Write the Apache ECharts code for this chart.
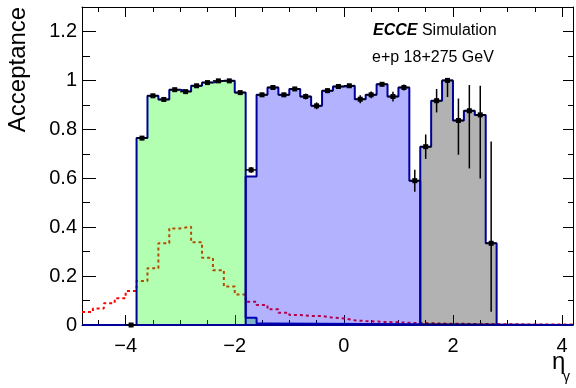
<!DOCTYPE html>
<html>
<head>
<meta charset="utf-8">
<script src="https://cdn.jsdelivr.net/npm/echarts@6/dist/echarts.min.js"></script>
<style>
html, body { margin: 0; padding: 0; background: #fff; }
#main { width: 576px; height: 388px; }
</style>
</head>
<body>
<div id="main"></div>
<script>
// eta range and bin width
var etaMin = -4.8, etaMax = 4.2, binW = 0.2;

// combined acceptance (black points), first bin starts at -4.0
var pointStart = -4.0;
var accValues = [0, 0.764, 0.937, 0.922, 0.962, 0.954, 0.978, 0.991, 0.998, 0.998, 0.950,
	0.634, 0.941, 0.971, 0.941, 0.965, 0.934, 0.896, 0.958, 0.975, 0.978, 0.923, 0.941, 0.984, 0.934, 0.971, 0.590,
	0.729, 0.917, 1.0, 0.836, 0.876, 0.859, 0.334];
var accErrDown = [0, 0.006, 0.005, 0.005, 0.004, 0.004, 0.003, 0.003, 0.002, 0.002, 0.005,
	0.012, 0.008, 0.008, 0.008, 0.008, 0.012, 0.014, 0.010, 0.008, 0.006, 0.016, 0.014, 0.008, 0.020, 0.012, 0.045,
	0.050, 0.048, 0.068, 0.140, 0.236, 0.260, 0.280];
var accErrUp = [0, 0.006, 0.005, 0.005, 0.004, 0.004, 0.003, 0.003, 0.002, 0.002, 0.005,
	0.012, 0.008, 0.008, 0.008, 0.008, 0.012, 0.014, 0.010, 0.008, 0.006, 0.016, 0.014, 0.008, 0.020, 0.012, 0.045,
	0.050, 0.048, 0.002, 0.090, 0.105, 0.119, 0.416];

// single detector histograms
var greenStart = -3.8;
var greenValues = [0.764, 0.937, 0.922, 0.962, 0.954, 0.978, 0.991, 0.998, 0.998, 0.950, 0.030, 0.006];
var blueStart = -1.8;
var blueValues = [0.607, 0.941, 0.971, 0.941, 0.965, 0.934, 0.896, 0.958, 0.975, 0.978, 0.923, 0.941, 0.984, 0.934, 0.971, 0.590];
var grayStart = 1.4;
var grayValues = [0.729, 0.917, 1.0, 0.836, 0.876, 0.859, 0.334];

// photon eta distribution (dotted), bins from -4.8
var etaDist = [0.053, 0.067, 0.089, 0.109, 0.139, 0.180, 0.232, 0.334, 0.395, 0.402, 0.338, 0.275, 0.224, 0.157, 0.125,
	0.095, 0.082, 0.064, 0.050, 0.041, 0.037, 0.037, 0.030, 0.027, 0.019, 0.016, 0.014, 0.012, 0.011, 0.009, 0.008,
	0.007, 0.006, 0.005, 0.005, 0.004, 0.004, 0.003, 0.003, 0.003, 0.002, 0.002, 0.002, 0.002, 0.002];

var majorTicks = [-4, -2, 0, 2, 4];
var minorTicks = [-4.5, -3.5, -3, -2.5, -1.5, -1, -0.5, 0.5, 1, 1.5, 2.5, 3, 3.5];

var font = 'Liberation Sans, Arial, Helvetica, sans-serif';

function stepPoints(start, vals, pad) {
	var pts = [];
	if(pad) pts.push([etaMin, 0], [start, 0]);
	for(var i = 0; i < vals.length; i++) {
		pts.push([start + i * binW, vals[i]], [start + (i + 1) * binW, vals[i]]);
	}
	if(pad) pts.push([start + vals.length * binW, 0], [etaMax, 0]);
	return pts;
}

function histSeries(start, vals, fill, z) {
	return {
		type: 'line',
		z: z,
		data: stepPoints(start, vals, true),
		symbol: 'none',
		lineStyle: { color: '#000099', width: 2 },
		areaStyle: { color: fill, opacity: 1 },
		silent: true
	};
}

var pointData = [];
for(var i = 0; i < accValues.length; i++) {
	var lo = pointStart + i * binW;
	pointData.push([lo, lo + binW, accValues[i], accValues[i] - accErrDown[i], accValues[i] + accErrUp[i]]);
}

function xAxisOf(pos, ticks, len, withLabel, withLine) {
	return {
		type: 'value', position: pos, min: etaMin, max: etaMax,
		splitLine: { show: false },
		axisLine: { show: withLine, onZero: false, lineStyle: { color: '#000', width: 1 } },
		axisTick: { show: true, inside: true, length: len, customValues: ticks, lineStyle: { color: '#000', width: 1 } },
		axisLabel: {
			show: withLabel, customValues: ticks, margin: 11,
			fontSize: 20, color: '#000', fontFamily: font,
			formatter: function(v) { return v < 0 ? '\u2212' + Math.abs(v) : '' + v; }
		}
	};
}

function yAxisOf(pos, interval, len, withLabel, withLine) {
	return {
		type: 'value', position: pos, min: 0, max: 1.3, interval: interval,
		splitLine: { show: false },
		axisLine: { show: withLine, onZero: false, lineStyle: { color: '#000', width: 1 } },
		axisTick: { show: true, inside: true, length: len, lineStyle: { color: '#000', width: 1 } },
		axisLabel: {
			show: withLabel, margin: 5, showMaxLabel: false,
			fontSize: 20, color: '#000', fontFamily: font
		}
	};
}

var chart = echarts.init(document.getElementById('main'));
var option = {
	animation: false,
	backgroundColor: '#fff',
	grid: { left: 82, right: 3, top: 7, bottom: 63, containLabel: false, outerBoundsMode: 'none' },
	xAxis: [
		xAxisOf('bottom', majorTicks, 10, true, true),
		xAxisOf('bottom', minorTicks, 5, false, false),
		xAxisOf('top', majorTicks, 10, false, true),
		xAxisOf('top', minorTicks, 5, false, false)
	],
	yAxis: [
		yAxisOf('left', 0.2, 14, true, true),
		yAxisOf('left', 0.1, 8, false, false),
		yAxisOf('right', 0.2, 10, false, true),
		yAxisOf('right', 0.1, 5, false, false)
	],
	series: [
		{
			type: 'line',
			z: 1,
			data: stepPoints(etaMin, etaDist, false),
			symbol: 'none',
			lineStyle: { color: '#ff0000', width: 2, type: [3, 3] },
			silent: true
		},
		histSeries(greenStart, greenValues, 'rgba(0,255,0,0.3)', 2),
		histSeries(blueStart, blueValues, 'rgba(0,0,255,0.3)', 3),
		histSeries(grayStart, grayValues, 'rgba(0,0,0,0.3)', 4),
		{
			type: 'custom',
			data: pointData,
			encode: { x: [0, 1], y: [2, 3, 4] },
			z: 10,
			renderItem: function(params, api) {
				var a = api.coord([api.value(0), api.value(2)]);
				var b = api.coord([api.value(1), api.value(2)]);
				var cx = (a[0] + b[0]) / 2;
				var up = api.coord([api.value(0), api.value(4)]);
				var dn = api.coord([api.value(0), api.value(3)]);
				var st = { stroke: '#000', lineWidth: 1.5 };
				return {
					type: 'group',
					children: [
						{ type: 'line', shape: { x1: a[0], y1: a[1], x2: b[0], y2: b[1] }, style: st },
						{ type: 'line', shape: { x1: cx, y1: up[1], x2: cx, y2: dn[1] }, style: st },
						{ type: 'rect', shape: { x: cx - 2.5, y: a[1] - 2.5, width: 5, height: 5 }, style: { fill: '#000' } }
					]
				};
			}
		}
	],
	graphic: [
		{
			type: 'text', x: 18, y: 69.5, rotation: Math.PI / 2,
			style: { text: 'Acceptance', fontSize: 24, fontFamily: font, fill: '#000', textAlign: 'center', textVerticalAlign: 'middle' }
		},
		{
			type: 'text', x: 373, y: 30.5,
			style: {
				text: '{b|ECCE} Simulation', fontSize: 16, fontFamily: font, fill: '#000', textVerticalAlign: 'middle',
				rich: { b: { fontSize: 16, fontFamily: font, fontWeight: 'bold', fontStyle: 'italic', fill: '#000' } }
			}
		},
		{
			type: 'text', x: 372, y: 58,
			style: { text: 'e+p 18+275 GeV', fontSize: 16, fontFamily: font, fill: '#000', textVerticalAlign: 'middle' }
		},
		{
			type: 'text', x: 552, y: 362,
			style: { text: '\u03b7', fontSize: 24, fontFamily: font, fill: '#000', textVerticalAlign: 'middle' }
		},
		{
			type: 'text', x: 563, y: 377,
			style: { text: '\u03b3', fontSize: 14, fontFamily: font, fill: '#000', textVerticalAlign: 'middle' }
		}
	]
};
chart.setOption(option);
</script>
</body>
</html>
